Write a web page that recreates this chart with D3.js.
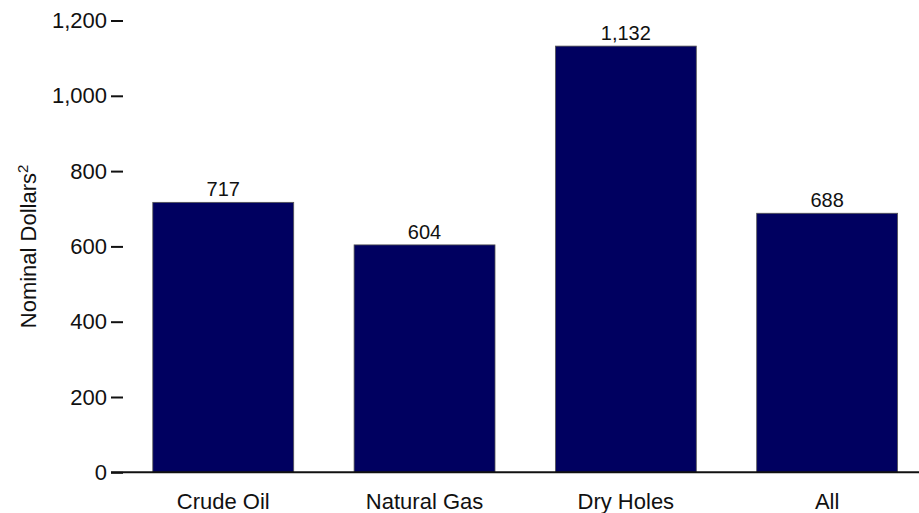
<!DOCTYPE html>
<html>
<head>
<meta charset="utf-8">
<script src="https://cdn.jsdelivr.net/npm/d3@7/dist/d3.min.js"></script>
<style>
  html, body { margin: 0; padding: 0; background: #fff; }
  svg { display: block; font-family: "Liberation Sans", Arial, Helvetica, sans-serif; }
</style>
</head>
<body>
<svg id="chart" width="919" height="513"></svg>
<script>
const categories = ["Crude Oil", "Natural Gas", "Dry Holes", "All"];
const values = [717, 604, 1132, 688];
const valueLabels = ["717", "604", "1,132", "688"];
const yTicks = [0, 200, 400, 600, 800, 1000, 1200];
const yTitle = "Nominal Dollars";
const yTitleSup = "2";

const svg = d3.select("#chart");
const W = 919, H = 513;

const x = d3.scaleBand()
  .domain(categories)
  .range([122.6, 927.8])
  .paddingInner(0.3)
  .paddingOuter(0.15);

const y = d3.scaleLinear()
  .domain([0, 1200])
  .range([472.3, 20.5]);

// bars
svg.append("g").selectAll("rect")
  .data(categories)
  .join("rect")
  .attr("x", d => x(d))
  .attr("y", (d, i) => y(values[i]))
  .attr("width", x.bandwidth())
  .attr("height", (d, i) => y(0) - y(values[i]))
  .attr("fill", "#000060")
  .attr("stroke", "#555")
  .attr("stroke-width", 0.8);

// value labels
svg.append("g").selectAll("text")
  .data(categories)
  .join("text")
  .attr("x", d => x(d) + x.bandwidth() / 2)
  .attr("y", (d, i) => y(values[i]) - 6)
  .attr("text-anchor", "middle")
  .attr("font-size", 20)
  .attr("fill", "#111")
  .text((d, i) => valueLabels[i]);

// y axis
const yAxis = d3.axisLeft(y)
  .tickValues(yTicks)
  .tickSize(12)
  .tickPadding(4)
  .tickFormat(d3.format(","));
const gy = svg.append("g")
  .attr("transform", "translate(123,0)")
  .call(yAxis);
gy.select(".domain").remove();
gy.selectAll(".tick line").attr("stroke", "#111").attr("stroke-width", 2);
gy.selectAll(".tick text")
  .attr("font-size", 22)
  .attr("fill", "#111")
  .attr("font-family", "'Liberation Sans', Arial, sans-serif");

// baseline
svg.append("line")
  .attr("x1", 111).attr("x2", W)
  .attr("y1", y(0)).attr("y2", y(0))
  .attr("stroke", "#111")
  .attr("stroke-width", 2);

// category labels
svg.append("g").selectAll("text")
  .data(categories)
  .join("text")
  .attr("x", d => x(d) + x.bandwidth() / 2)
  .attr("y", 509)
  .attr("text-anchor", "middle")
  .attr("font-size", 22)
  .attr("fill", "#111")
  .text(d => d);

// y title
const title = svg.append("text")
  .attr("transform", `translate(35.5,${(y(0) + y(1200)) / 2}) rotate(-90)`)
  .attr("text-anchor", "middle")
  .attr("font-size", 22)
  .attr("fill", "#111");
title.append("tspan").text(yTitle);
title.append("tspan").attr("font-size", 15).attr("dy", -8).text(yTitleSup);
</script>
</body>
</html>
